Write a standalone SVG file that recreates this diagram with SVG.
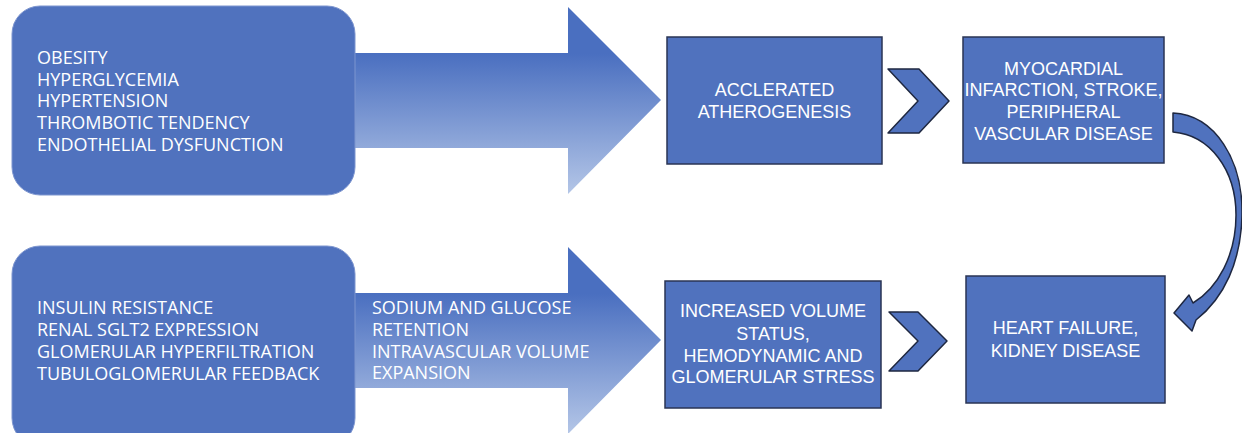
<svg xmlns="http://www.w3.org/2000/svg" width="1242" height="433" viewBox="0 0 1242 433">
<defs>
<linearGradient id="g" x1="0" y1="0" x2="0" y2="1">
<stop offset="0" stop-color="#4a6fc0"/>
<stop offset="0.25" stop-color="#4a6fc0"/>
<stop offset="1" stop-color="#b4c6e7"/>
</linearGradient>
<style>
.rbox{fill:#5072be;stroke:#7d95cf;stroke-width:1}
.box{fill:#5072be;stroke:#2a3554;stroke-width:1.5}
.chev{fill:#5072be;stroke:#1e2740;stroke-width:1.5;stroke-linejoin:round}
.arr{fill:url(#g)}
.t1{font-family:"Open Sans",sans-serif;font-size:18px;fill:#fff}
.t2{font-family:"Liberation Sans",Arial,sans-serif;font-size:18px;fill:#fff;text-anchor:middle}
</style>
</defs>
<g id="connectors">
<path class="arr" d="M340,53 L568,53 L568,7 L661,100 L568,194 L568,148 L340,148 Z"/>
<path class="arr" d="M340,293 L568,293 L568,247 L661,340 L568,434 L568,388 L340,388 Z"/>
<path class="chev" d="M888,69 L919,69 L949,101 L919,133 L888,133 L918,101 Z"/>
<path class="chev" d="M889,312 L918,312 L947,341 L918,371 L889,371 L918,341 Z"/>
<path class="chev" d="M1173,113 C1215,115 1243,160 1242,215 C1241,262 1224,298 1196,320 L1192,331 L1174,313 L1189,295 L1193,303 C1218,288 1236,255 1236,215 C1236,170 1210,135 1173,132 Z"/>
</g>
<g id="n1">
<rect class="rbox" x="12" y="6" width="343" height="189" rx="28"/>
<text class="t1" x="37"><tspan x="37" y="64">OBESITY</tspan><tspan x="37" y="86">HYPERGLYCEMIA</tspan><tspan x="37" y="107">HYPERTENSION</tspan><tspan x="37" y="129">THROMBOTIC TENDENCY</tspan><tspan x="37" y="151">ENDOTHELIAL DYSFUNCTION</tspan></text>
</g>
<g id="n2">
<rect class="rbox" x="12" y="246" width="343" height="200" rx="28"/>
<text class="t1"><tspan x="37" y="314">INSULIN RESISTANCE</tspan><tspan x="37" y="336">RENAL SGLT2 EXPRESSION</tspan><tspan x="37" y="358">GLOMERULAR HYPERFILTRATION</tspan><tspan x="37" y="380">TUBULOGLOMERULAR FEEDBACK</tspan></text>
</g>
<g id="n3">
<text class="t1"><tspan x="372" y="314">SODIUM AND GLUCOSE</tspan><tspan x="372" y="336">RETENTION</tspan><tspan x="372" y="358">INTRAVASCULAR VOLUME</tspan><tspan x="372" y="379">EXPANSION</tspan></text>
</g>
<g id="n4">
<rect class="box" x="667" y="37" width="215" height="127"/>
<text class="t2"><tspan x="774.5" y="96">ACCLERATED</tspan><tspan x="774.5" y="118">ATHEROGENESIS</tspan></text>
</g>
<g id="n5">
<rect class="box" x="963" y="37" width="201" height="126"/>
<text class="t2"><tspan x="1063.5" y="75">MYOCARDIAL</tspan><tspan x="1063.5" y="96">INFARCTION, STROKE,</tspan><tspan x="1063.5" y="118">PERIPHERAL</tspan><tspan x="1063.5" y="140">VASCULAR DISEASE</tspan></text>
</g>
<g id="n6">
<rect class="box" x="665" y="281" width="216" height="127"/>
<text class="t2"><tspan x="773" y="317">INCREASED VOLUME</tspan><tspan x="773" y="340">STATUS,</tspan><tspan x="773" y="362">HEMODYNAMIC AND</tspan><tspan x="773" y="383">GLOMERULAR STRESS</tspan></text>
</g>
<g id="n7">
<rect class="box" x="966" y="276" width="199" height="127"/>
<text class="t2"><tspan x="1065.5" y="334">HEART FAILURE,</tspan><tspan x="1065.5" y="357">KIDNEY DISEASE</tspan></text>
</g>
</svg>
